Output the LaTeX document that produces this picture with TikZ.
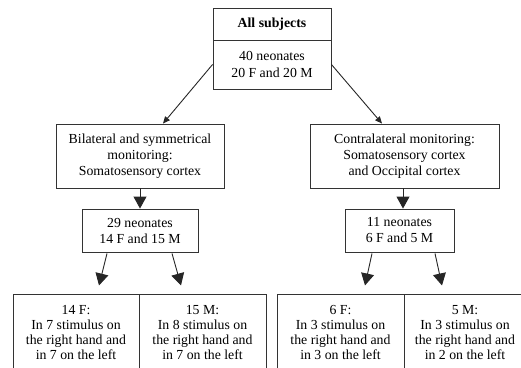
\documentclass[tikz,border=0pt]{standalone}
\usepackage{fontspec}
\setmainfont{Liberation Serif}
\usetikzlibrary{arrows.meta}
\begin{document}
\begin{tikzpicture}[x=1pt,y=-1pt,
  every node/.style={font=\fontsize{13.8}{16}\selectfont, align=center, inner sep=0pt},
  box/.style={draw=black!80, line width=0.9pt, rectangle},
  cell/.style={box, font=\fontsize{13.8}{15.3}\selectfont},
  link/.style={draw=black!85, line width=0.9pt, -{Triangle[length=7pt,width=6pt]}},
  bigarrow/.style={draw=black!85, line width=0.9pt, -{Triangle[length=12pt,width=13pt]}}]
\useasboundingbox (0,0) rectangle (521,367);
\clip (0,0) rectangle (521,367);

% root box: header and body
\node[box, minimum width=118, minimum height=32] (head) at (272,24) {\textbf{All subjects}};
\node[box, minimum width=118, minimum height=49] (root) at (272,64.5) {40 neonates\\[1pt]20 F and 20 M};

% second level
\node[box, minimum width=168, minimum height=64] (bil) at (140,156) {Bilateral and symmetrical\\monitoring:\\Somatosensory cortex};
\node[box, minimum width=189, minimum height=64] (con) at (404.5,156) {Contralateral monitoring:\\Somatosensory cortex\\and Occipital cortex};

% group sizes
\node[box, minimum width=116, minimum height=43] (g29) at (140,230.5) {29 neonates\\14 F and 15 M};
\node[box, minimum width=109, minimum height=43] (g11) at (399.5,230.5) {11 neonates\\6 F and 5 M};

% bottom cells
\node[cell, minimum width=126, minimum height=77] (f14) at (76,332.5) {14 F:\\In 7 stimulus on\\the right hand and\\in 7 on the left};
\node[cell, minimum width=127, minimum height=77] (m15) at (202.5,332.5) {15 M:\\In 8 stimulus on\\the right hand and\\in 7 on the left};
\node[cell, minimum width=127, minimum height=77] (f6) at (340.5,332.5) {6 F:\\In 3 stimulus on\\the right hand and\\in 3 on the left};
\node[cell, minimum width=122, minimum height=77] (m5) at (465,332.5) {5 M:\\In 3 stimulus on\\the right hand and\\in 2 on the left};

% free arrow ends above the bottom cells
\coordinate (t1) at ([xshift=-41pt,yshift=-33pt]g29.south);
\coordinate (t2) at ([xshift=41pt,yshift=-33pt]g29.south);
\coordinate (t3) at ([xshift=-34.5pt,yshift=-33pt]g11.south);
\coordinate (t4) at ([xshift=42.5pt,yshift=-33pt]g11.south);

% connectors
\draw[link] (root.west) -- ([xshift=23pt]bil.north);
\draw[link] (root.east) -- ([xshift=-22.5pt]con.north);
\draw[bigarrow] (bil.south) -- (g29.north);
\draw[bigarrow] ([xshift=-1.5pt]con.south) -- ([xshift=-1.5pt]con.south |- g11.north);
\draw[bigarrow] ([xshift=-33pt,yshift=-1pt]g29.south) -- (t1);
\draw[bigarrow] ([xshift=32pt,yshift=-1pt]g29.south) -- (t2);
\draw[bigarrow] ([xshift=-27.5pt,yshift=-1pt]g11.south) -- (t3);
\draw[bigarrow] ([xshift=35.5pt,yshift=-1pt]g11.south) -- (t4);
\end{tikzpicture}
\end{document}
